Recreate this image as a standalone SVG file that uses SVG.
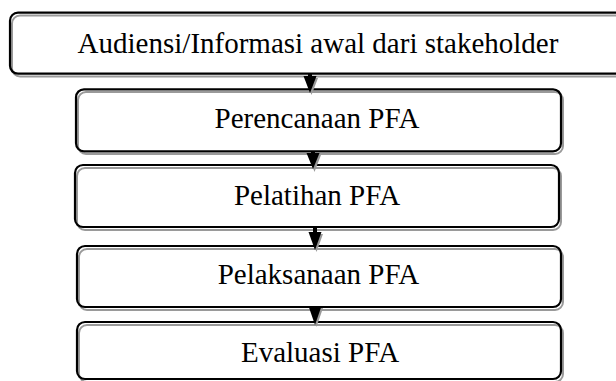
<svg xmlns="http://www.w3.org/2000/svg" width="616" height="381" viewBox="0 0 616 381">
<style>
.box{fill:none;stroke:#000;stroke-width:2.2}
.sh{fill:none;stroke:#9a9a9a;stroke-width:2}
.lbl{font-family:"Liberation Serif","Times New Roman",serif;font-size:29px;fill:#000;text-anchor:middle}
.conn{stroke:#000;stroke-width:4;fill:none}
.head{fill:#000}
.hsh{fill:#9a9a9a}
</style>
<rect width="616" height="381" fill="#fff"/>
<g id="n1">
<rect class="sh" x="12" y="15.5" width="616" height="61" rx="8"/>
<rect class="box" x="10" y="12.7" width="616" height="61" rx="8"/>
<text class="lbl" x="318" y="53">Audiensi/Informasi awal dari stakeholder</text>
</g>
<g id="n2">
<rect class="sh" x="78" y="92" width="485" height="62" rx="8"/>
<rect class="box" x="76" y="89.3" width="485" height="62" rx="8"/>
<text class="lbl" x="317" y="128">Perencanaan PFA</text>
</g>
<g id="n3">
<rect class="sh" x="77" y="168" width="484" height="62" rx="8"/>
<rect class="box" x="75" y="165" width="484" height="62" rx="8"/>
<text class="lbl" x="317" y="205">Pelatihan PFA</text>
</g>
<g id="n4">
<rect class="sh" x="79" y="249" width="484" height="61" rx="8"/>
<rect class="box" x="77" y="246" width="484" height="61" rx="8"/>
<text class="lbl" x="318.5" y="284">Pelaksanaan PFA</text>
</g>
<g id="n5">
<rect class="sh" x="79" y="325" width="484" height="57" rx="8"/>
<rect class="box" x="77" y="322" width="484" height="57" rx="8"/>
<text class="lbl" x="320" y="362">Evaluasi PFA</text>
</g>
<g id="connectors">
<path class="hsh" d="M305,78 L318,78 L311.5,95 Z"/>
<line class="conn" x1="310" y1="73.7" x2="310" y2="78"/>
<path class="head" d="M303.5,76 L316.5,76 L310,93 Z"/>
<path class="hsh" d="M308,155 L321,155 L314.5,172 Z"/>
<line class="conn" x1="313" y1="151.3" x2="313" y2="155"/>
<path class="head" d="M306.5,153 L319.5,153 L313,169 Z"/>
<path class="hsh" d="M310,234 L323,234 L316.5,252 Z"/>
<line class="conn" x1="315" y1="227" x2="315" y2="234"/>
<path class="head" d="M308.5,232 L321.5,232 L315,250 Z"/>
<path class="hsh" d="M310,308 L323,308 L316.5,327 Z"/>
<line class="conn" x1="315" y1="307" x2="315" y2="308"/>
<path class="head" d="M308.5,306 L321.5,306 L315,325 Z"/>
</g>
</svg>
